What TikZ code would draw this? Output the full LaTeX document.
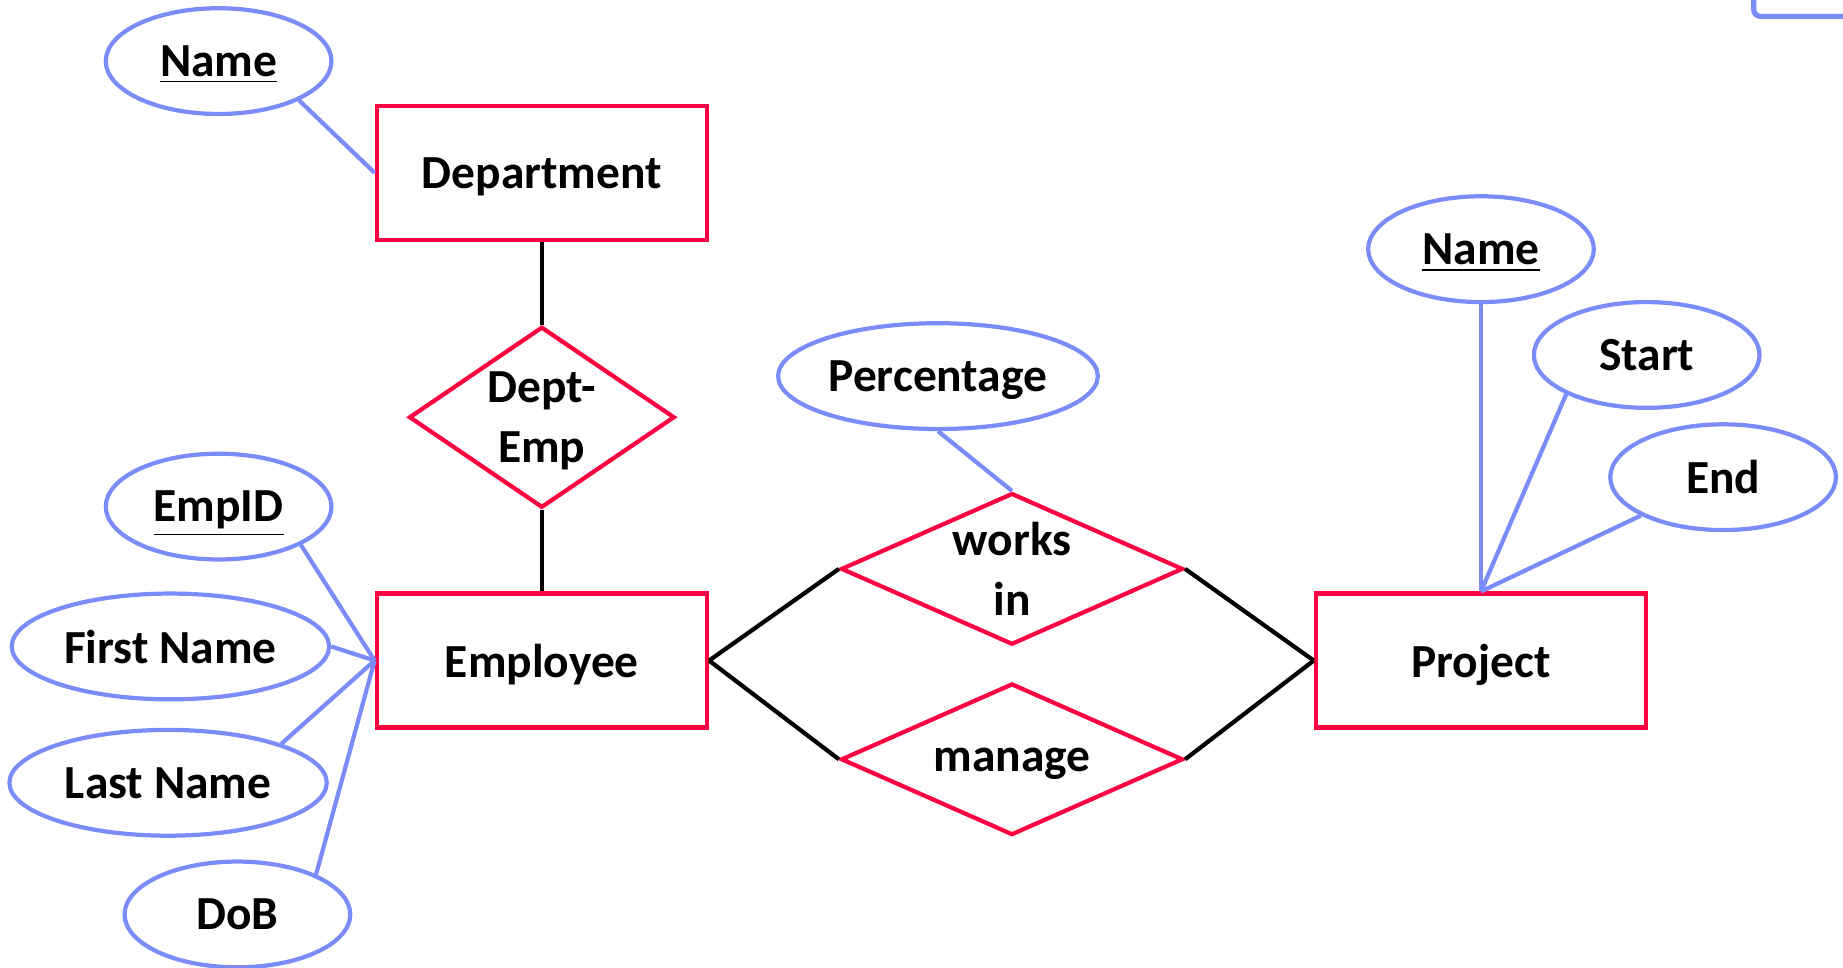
\documentclass[tikz,border=0pt]{standalone}
\usepackage{fontspec}
\setmainfont{Carlito}
\usetikzlibrary{shapes.geometric,positioning}
\definecolor{entred}{RGB}{255,0,64}
\definecolor{attrblue}{RGB}{123,140,248}

\begin{document}
\begin{tikzpicture}[x=0.011754cm,y=-0.011754cm,
  every node/.style={font=\fontsize{13.5}{17}\selectfont\bfseries,inner sep=0pt,align=center,text depth=0pt},
  entity/.style={draw=entred,line width=1.2pt,rectangle,minimum width=281*0.011754cm,minimum height=114*0.011754cm},
  relation/.style={draw=entred,line width=1.2pt,diamond},
  attr/.style={draw=attrblue,line width=1.2pt,ellipse,minimum width=192*0.011754cm,minimum height=90*0.011754cm},
  wideattr/.style={attr,minimum width=270*0.011754cm},
  attrline/.style={attrblue,line width=1.2pt},
  relline/.style={black,line width=1.2pt}
]
\clip (0,0) rectangle (1568,823);

% entities
\node[entity] (dept) at (461,147) {Department};
\node[entity] (emp) at (461,562) {Employee};
\node[entity] (proj) at (1260,562) {Project};

% relations
\node[relation,minimum width=226*0.011754cm,minimum height=154*0.011754cm,
  label={[align=center]center:Dept-\\Emp}] (deptemp) at (461,355) {};
\node[relation,minimum width=291*0.011754cm,minimum height=129*0.011754cm,
  label={[align=center]center:works\\in}] (worksin) at (861,484) {};
\node[relation,minimum width=291*0.011754cm,minimum height=129*0.011754cm,
  label={center:manage}] (manage) at (861,646) {};

% attributes
\node[attr] (dname) at (186,52) {\underline{Name}};
\node[attr] (empid) at (186,431) {\underline{EmpID}};
\node[wideattr] (fname) at (145,550) {First Name};
\node[wideattr] (lname) at (143,666) {Last Name};
\node[attr] (dob) at (202,778) {DoB};
\node[wideattr,minimum width=272*0.011754cm] (pct) at (798,320) {Percentage};
\node[attr] (pname) at (1260,212) {\underline{Name}};
\node[attr] (start) at (1401,302) {Start};
\node[attr] (end) at (1466,406) {End};

% connectors
\draw[relline] (dept.south) -- (deptemp.north);
\draw[relline] (deptemp.south) -- (emp.north);
\draw[relline] (emp.east) -- (worksin.west);
\draw[relline] (emp.east) -- (manage.west);
\draw[relline] (worksin.east) -- (proj.west);
\draw[relline] (manage.east) -- (proj.west);

\draw[attrline] (dname.-26) -- (dept.west);
\draw[attrline] (empid.-25) -- (emp.west);
\draw[attrline] (fname.east) -- (emp.west);
\draw[attrline] (lname.19) -- (emp.west);
\draw[attrline] (dob.27) -- (emp.west);
\draw[attrline] (pct.south) -- (worksin.north);
\draw[attrline] (pname.south) -- (proj.north);
\draw[attrline] (start.-154) -- (proj.north);
\draw[attrline] (end.-155) -- (proj.north);

% frame cut off at the top right
\draw[attrblue,line width=1.5pt,rounded corners=2pt] (1492,-20) |- (1600,14);
\end{tikzpicture}
\end{document}
